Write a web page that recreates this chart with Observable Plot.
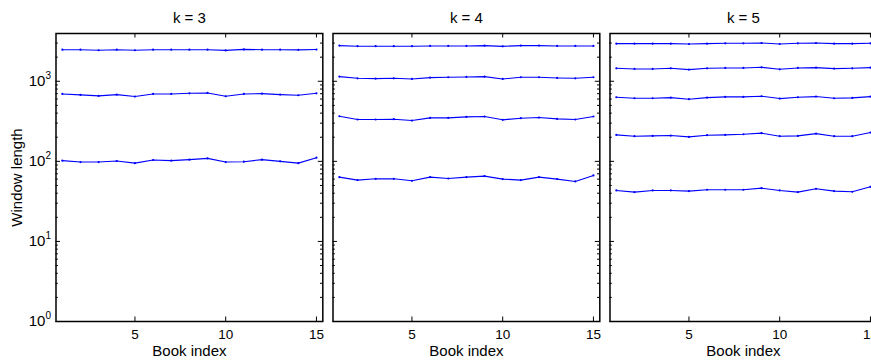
<!DOCTYPE html>
<html>
<head>
<meta charset="utf-8">
<script src="https://cdn.jsdelivr.net/npm/d3@7"></script>
<script src="https://cdn.jsdelivr.net/npm/@observablehq/plot@0.6"></script>
<style>
  html, body { margin: 0; padding: 0; background: #fff; overflow: hidden; }
  #chart { width: 871px; height: 360px; overflow: hidden; }
  #chart svg { max-width: none !important; }
</style>
</head>
<body>
<div id="chart"></div>
<script>
// ---- data ----
const panels = [3, 4, 5];
const bookIndex = [1, 2, 3, 4, 5, 6, 7, 8, 9, 10, 11, 12, 13, 14, 15];

const k3_s1 = [2480, 2480, 2440, 2480, 2440, 2480, 2480, 2480, 2480, 2430, 2500, 2480, 2480, 2470, 2490];
const k3_s2 = [695, 676, 657, 682, 644, 695, 695, 708, 715, 650, 695, 701, 682, 669, 708];
const k3_s3 = [102, 98, 98, 101, 95, 104, 102, 105, 109, 98, 99, 105, 100, 95, 111];

const k4_s1 = [2790, 2740, 2740, 2740, 2740, 2760, 2760, 2760, 2790, 2730, 2790, 2790, 2760, 2760, 2760];
const k4_s2 = [1143, 1090, 1080, 1090, 1069, 1111, 1122, 1133, 1143, 1069, 1122, 1122, 1100, 1090, 1122];
const k4_s3 = [366, 333, 333, 336, 323, 349, 349, 359, 363, 330, 346, 353, 339, 333, 363];
const k4_s4 = [63.5, 58.3, 60.5, 60.5, 57.2, 63.5, 61.1, 63.5, 65.4, 60, 58.3, 63.5, 60, 56.1, 66.7];

const k5_s1 = [2950, 2950, 2950, 2950, 2922, 2950, 2978, 2978, 3006, 2922, 2978, 3006, 2950, 2950, 2978];
const k5_s2 = [1452, 1425, 1425, 1452, 1398, 1452, 1466, 1466, 1495, 1411, 1466, 1481, 1439, 1452, 1481];
const k5_s3 = [632, 614, 614, 625, 597, 625, 638, 638, 650, 608, 632, 644, 614, 620, 644];
const k5_s4 = [214, 206, 208, 210, 202, 212, 214, 218, 225, 206, 208, 222, 206, 206, 229];
const k5_s5 = [43.3, 41.3, 43.3, 43.3, 42.5, 44.2, 44.2, 44.2, 46.3, 43.3, 41.3, 45.4, 42.5, 41.7, 48.1];

const xTicks = [5, 10, 15];
const yMajorTicks = [1, 10, 100, 1000];
const yMinorTicks = [2, 3, 4, 5, 6, 7, 8, 9, 20, 30, 40, 50, 60, 70, 80, 90,
                     200, 300, 400, 500, 600, 700, 800, 900, 2000, 3000];

const seriesByPanel = [
  [3, [k3_s1, k3_s2, k3_s3]],
  [4, [k4_s1, k4_s2, k4_s3, k4_s4]],
  [5, [k5_s1, k5_s2, k5_s3, k5_s4, k5_s5]]
];

// ---- table ----
const rows = [];
for (const [k, list] of seriesByPanel) {
  list.forEach((vals, si) => {
    vals.forEach((v, i) => rows.push({k, series: `${k}-${si}`, book: bookIndex[i], value: v}));
  });
}

// ---- layout ----
const W = 877, H = 360, ML = 55.5, MR = 0.7, MT = 33, MB = 39;
const padInner = 0.0368;
const step = (W - ML - MR) / (panels.length - padInner);
const bw = step * (1 - padInner);
const ph = H - MT - MB;
const majorLen = 4.5, minorLen = 2.3;

const chart = Plot.plot({
  width: W,
  height: H,
  marginLeft: ML,
  marginRight: MR,
  marginTop: MT,
  marginBottom: MB,
  style: {fontFamily: "'Liberation Sans', Arial, Helvetica, sans-serif", fontSize: "15px", color: "#000", background: "#fff"},
  fx: {domain: panels, paddingInner: padInner, paddingOuter: 0, round: false},
  x: {domain: [0.65, 15.35]},
  y: {type: "log", domain: [1, 3950]},
  marks: [
    // inward ticks on all four sides of each panel
    Plot.tickY(yMajorTicks, {y: d => d, insetRight: bw - majorLen, stroke: "#000", strokeWidth: 1}),
    Plot.tickY(yMajorTicks, {y: d => d, insetLeft: bw - majorLen, stroke: "#000", strokeWidth: 1}),
    Plot.tickY(yMinorTicks, {y: d => d, insetRight: bw - minorLen, stroke: "#000", strokeWidth: 1}),
    Plot.tickY(yMinorTicks, {y: d => d, insetLeft: bw - minorLen, stroke: "#000", strokeWidth: 1}),
    Plot.tickX(xTicks, {x: d => d, insetTop: ph - majorLen, stroke: "#000", strokeWidth: 1}),
    Plot.tickX(xTicks, {x: d => d, insetBottom: ph - majorLen, stroke: "#000", strokeWidth: 1}),
    Plot.frame({stroke: "#000", strokeWidth: 1.5}),
    Plot.lineY(rows, {x: "book", y: "value", z: "series", fx: "k", stroke: "#0000ff", strokeWidth: 1.1}),
    Plot.dot(rows, {x: "book", y: "value", fx: "k", r: 1.1, fill: "#0000ff", stroke: null}),
    Plot.axisX(xTicks, {tickSize: 0, tickPadding: 8.4, label: null, fontSize: 13.5}),
    Plot.axisY(yMajorTicks, {
      tickSize: 0, tickPadding: 5, fontSize: 15,
      tickFormat: d => "10^" + Math.round(Math.log10(d)),
      label: "Window length", labelAnchor: "center", labelArrow: "none", labelOffset: 45
    }),
    Plot.axisFx({anchor: "top", tickSize: 0, tickPadding: 11, label: null, fontSize: 15, tickFormat: d => `k = ${d}`}),
    Plot.text(["Book index"], {frameAnchor: "bottom", dy: 34.5, fontSize: 15, fill: "#000"})
  ]
});

// superscript exponents on the log-axis labels
chart.querySelectorAll('g[aria-label="y-axis tick label"] text').forEach(t => {
  const txt = t.textContent;
  if (!txt.includes("^")) return;
  const [base, exp] = txt.split("^");
  t.textContent = base;
  const ts = document.createElementNS("http://www.w3.org/2000/svg", "tspan");
  ts.setAttribute("dy", "-7");
  ts.setAttribute("font-size", "10");
  ts.textContent = exp;
  t.appendChild(ts);
});

document.getElementById("chart").appendChild(chart);
</script>
</body>
</html>
